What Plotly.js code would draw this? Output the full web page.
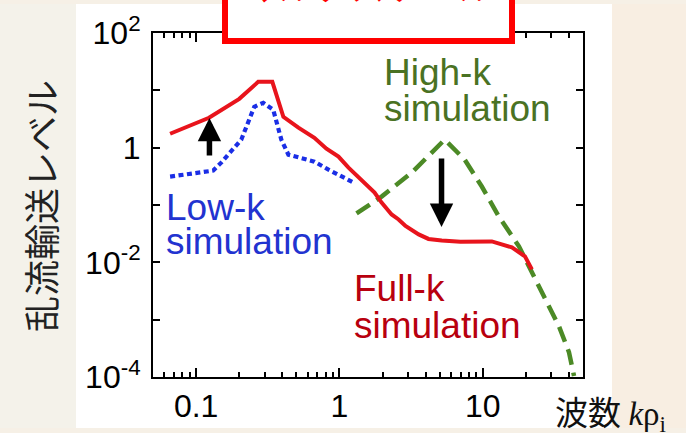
<!DOCTYPE html>
<html><head><meta charset="utf-8">
<script src="https://cdn.plot.ly/plotly-3.0.1.min.js"></script>
<style>html,body{margin:0;padding:0;background:#f6f0e6;}#c{width:686px;height:433px;}</style>
</head><body><div id="c"></div>
<script>
// Full-k simulation (red solid)
const fullK_x = [0.0658, 0.123, 0.2, 0.271, 0.34, 0.406, 0.517, 0.668, 0.811, 0.984, 1.156, 1.425, 1.757, 1.967, 2.31, 2.585, 2.888, 3.57, 4.18, 5.17, 6.98, 11.56, 15.95, 19.67, 22.0];
const fullK_y = [1.75, 3.32, 7.11, 14.06, 14.06, 3.46, 2.23, 1.49, 0.96, 0.697, 0.449, 0.278, 0.165, 0.11, 0.0684, 0.056, 0.0431, 0.0307, 0.0256, 0.0241, 0.0228, 0.0232, 0.0182, 0.0127, 0.00755];
// Low-k simulation (blue dotted)
const lowK_x = [0.0658, 0.0923, 0.1315, 0.1496, 0.2065, 0.2545, 0.294, 0.345, 0.393, 0.44, 0.517, 0.668, 0.838, 1.03, 1.253];
const lowK_y = [0.313, 0.353, 0.398, 0.548, 1.38, 5.17, 6.06, 4.58, 1.38, 0.756, 0.67, 0.571, 0.414, 0.313, 0.246];
// High-k simulation (green dashed)
const highK_x = [1.315, 1.967, 3.19, 5.42, 7.48, 9.84, 12.94, 17.86, 22.0, 27.1, 33.96, 39.9, 43.3];
const highK_y = [0.0711, 0.14, 0.367, 1.38, 0.618, 0.21, 0.063, 0.019, 0.0067, 0.00227, 0.00077, 0.000272, 0.000104];

const xTickVals = [0.1, 1, 10];
const xTickText = ['0.1', '1', '10'];
const yTickVals = [1e-4, 1e-3, 1e-2, 1e-1, 1, 10, 100];
const yTickText = ['10<sup>-4</sup>', '', '10<sup>-2</sup>', '', '1', '', '10<sup>2</sup>'];

const xMinor = [];
[0.01, 0.1, 1, 10].forEach(d => { for (let m = 2; m <= 9; m++) { const v = m * d; if (v > 0.05 && v < 50) xMinor.push(v); } });

const FONT = 'Liberation Sans, Arial, Helvetica, sans-serif';
const CJK = 'Noto Sans CJK JP, sans-serif';
const XR = [Math.log10(0.05), Math.log10(50)];

const traces = [
  {x: lowK_x, y: lowK_y, mode: 'lines', line: {color: '#1a2ee6', width: 4.2, dash: '5px,3.5px'}, hoverinfo: 'skip'},
  {x: highK_x, y: highK_y, mode: 'lines', line: {color: '#4c8a26', width: 4.5, dash: '16px,8px'}, hoverinfo: 'skip'},
  {x: fullK_x, y: fullK_y, mode: 'lines', line: {color: '#e8141c', width: 4}, hoverinfo: 'skip'},
  {x: [1], y: [1], xaxis: 'x2', yaxis: 'y', mode: 'markers', marker: {opacity: 0, size: 1}, hoverinfo: 'skip'}
];

const W = 430, H = 344, L = 153, T = 33;
const px = v => (v - L) / W;
const py = v => (T + H - v) / H;

const lab = (text, x, y, color) => ({text, xref: 'paper', yref: 'paper', x: px(x), y: py(y), xanchor: 'left', yanchor: 'middle', showarrow: false, borderpad: 0, font: {family: FONT, size: 37, color}});
const cream = (x0, x1, y0, y1, c) => ({type: 'rect', xref: 'paper', yref: 'paper', layer: 'below', x0: px(x0), x1: px(x1), y0: py(y1), y1: py(y0), fillcolor: c, line: {width: 0}});

const layout = {
  width: 686, height: 433,
  margin: {l: L, r: 686 - L - W, t: T, b: 433 - T - H},
  paper_bgcolor: '#ffffff', plot_bgcolor: '#ffffff',
  showlegend: false,
  xaxis: {type: 'log', range: XR, tickmode: 'array', tickvals: xTickVals, ticktext: xTickText,
    ticks: 'inside', ticklen: 9, tickwidth: 2, tickcolor: '#000', showline: true, linecolor: '#000', linewidth: 2, mirror: 'ticks',
    showgrid: false, zeroline: false, tickfont: {family: FONT, size: 32, color: '#000'}},
  xaxis2: {type: 'log', range: XR, overlaying: 'x', anchor: 'y', side: 'bottom', tickmode: 'array', tickvals: xMinor,
    ticks: 'inside', ticklen: 5, tickwidth: 2, tickcolor: '#000', showline: false, mirror: 'ticks', showticklabels: false,
    showgrid: false, zeroline: false},
  yaxis: {type: 'log', range: [-4, 2], tickmode: 'array', tickvals: yTickVals, ticktext: yTickText,
    ticks: 'inside', ticklen: 7, tickwidth: 2, tickcolor: '#000', showline: true, linecolor: '#000', linewidth: 2, mirror: 'ticks',
    showgrid: false, zeroline: false, tickfont: {family: FONT, size: 32, color: '#000'}, ticklabelstandoff: 4},
  shapes: [
    cream(-5, 76, -5, 440, '#f4f2ea'),
    cream(612, 700, -5, 440, '#f8eee2'),
    cream(-5, 700, -5, 4, '#f6f0e6'),
    cream(-5, 700, 428, 440, '#f6f0e6'),
    {type: 'rect', xref: 'paper', yref: 'paper', layer: 'above', x0: px(225), x1: px(512), y0: py(41), y1: py(-30), fillcolor: '#ffffff', line: {color: '#ff0000', width: 6}}
  ],
  annotations: [
    lab('Low-k', 165, 207, '#2233d0'),
    lab('simulation', 165, 241, '#2233d0'),
    lab('High-k', 383, 72, '#4a7223'),
    lab('simulation', 383, 108, '#4a7223'),
    lab('Full-k', 353, 288, '#b8000e'),
    lab('simulation', 353, 325, '#b8000e'),
    {text: '乱流輸送レベル', xref: 'paper', yref: 'paper', x: px(40), y: py(206), textangle: -90, showarrow: false, xanchor: 'center', yanchor: 'middle', font: {family: CJK, size: 36, color: '#222'}},
    {text: '波数 <span style="font-family:Liberation Serif, Times New Roman, serif"><i>k</i>ρ<sub>i</sub></span>', xref: 'paper', yref: 'paper', x: px(554), y: py(412), xanchor: 'left', yanchor: 'middle', showarrow: false, borderpad: 0, font: {family: CJK, size: 33, color: '#111'}},
    {text: '<b>マルチスケール</b>', xref: 'paper', yref: 'paper', x: px(368), y: py(12), xanchor: 'center', yanchor: 'bottom', showarrow: false, font: {family: CJK, size: 36, color: '#ff0000'}},
    {x: Math.log10(0.1238), y: Math.log10(3.3), xref: 'x', yref: 'y', text: '', showarrow: true, arrowhead: 2, arrowwidth: 5.5, arrowsize: 0.85, arrowcolor: '#000', ax: 0, ay: 39, standoff: 0},
    {x: 0.712, y: -1.383, xref: 'x', yref: 'y', text: '', showarrow: true, arrowhead: 2, arrowwidth: 5.5, arrowsize: 0.85, arrowcolor: '#000', ax: 0, ay: -70, standoff: 0}
  ]
};

Plotly.newPlot('c', traces, layout, {staticPlot: true, displayModeBar: false});
</script></body></html>
